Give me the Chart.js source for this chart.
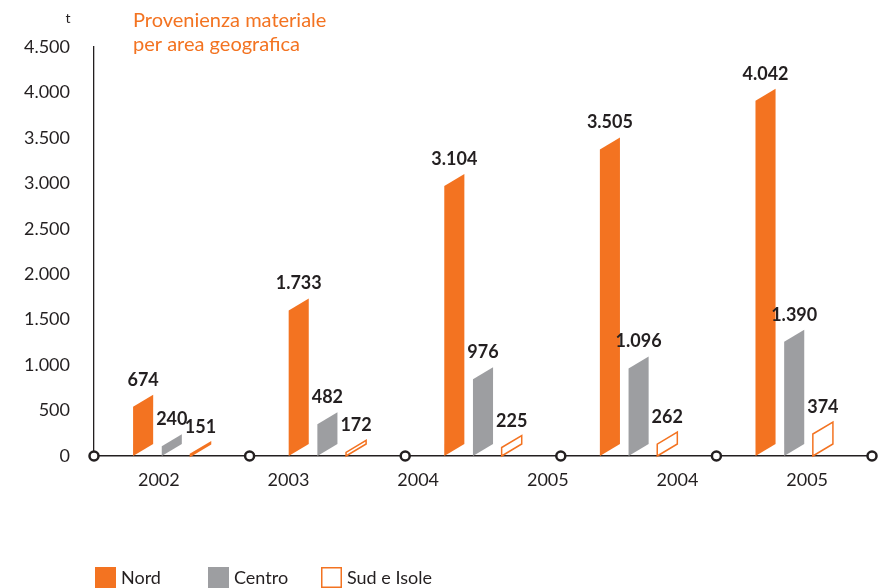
<!DOCTYPE html>
<html><head><meta charset="utf-8">
<script src="https://cdn.jsdelivr.net/npm/chart.js@4"></script>
<style>html,body{margin:0;padding:0;background:#fff}#wrap{width:888px;height:588px;position:relative}</style>
</head><body><div id="wrap"><canvas id="c" width="888" height="588"></canvas></div>
<script>
// ---- data ----
const groups = ['g1', 'g2', 'g3', 'g4', 'g5'];
const axisLabels = ['2002', '2003', '2004', '2005', '2004', '2005'];
const nord = [674, 1733, 3104, 3505, 4042];
const centro = [240, 482, 976, 1096, 1390];
const sud = [151, 172, 225, 262, 374];
const seriesNames = ['Nord', 'Centro', 'Sud e Isole'];
const titleLines = ['Provenienza materiale', 'per area geografica'];
const unitLabel = 't';
const yMax = 4500, yStep = 500;

const ORANGE = '#f37321', GRAY = '#9d9ea1', DARK = '#231f20';
const FONT = 'Lato';

function fmt(v) { return String(v).replace(/\B(?=(\d{3})+(?!\d))/g, '.'); }

const parallelBars = {
  id: 'parallelBars',
  beforeDatasetDraw() { return false; },
  afterDatasetsDraw(chart) {
    const ctx = chart.ctx, skew = 12;
    chart.data.datasets.forEach((ds, di) => {
      const meta = chart.getDatasetMeta(di);
      meta.data.forEach((el, i) => {
        const p = el.getProps(['x', 'y', 'base', 'width'], true);
        const l = p.x - p.width / 2, r = p.x + p.width / 2;
        ctx.save();
        ctx.beginPath();
        ctx.moveTo(l, p.base);
        ctx.lineTo(r, p.base - skew);
        ctx.lineTo(r, p.y);
        ctx.lineTo(l, p.y + skew);
        ctx.closePath();
        ctx.fillStyle = ds.backgroundColor;
        ctx.fill();
        if (ds.outline) {
          ctx.lineWidth = 1.5;
          ctx.strokeStyle = ds.borderColor;
          ctx.stroke();
        }
        ctx.fillStyle = DARK;
        ctx.font = 'bold 18px ' + FONT;
        ctx.textAlign = 'center';
        ctx.textBaseline = 'alphabetic';
        ctx.fillText(fmt(ds.data[i]), p.x, p.y - 9);
        ctx.restore();
      });
    });
  },
  afterDraw(chart) {
    const ctx = chart.ctx;
    const xs = chart.scales.x;
    const n = groups.length;
    ctx.save();
    // circles at group boundaries
    for (let i = 0; i <= n; i++) {
      const px = xs.getPixelForValue(i - 0.5);
      ctx.beginPath();
      ctx.arc(px, chart.chartArea.bottom, 4.5, 0, Math.PI * 2);
      ctx.fillStyle = '#fff';
      ctx.fill();
      ctx.lineWidth = 2.5;
      ctx.strokeStyle = DARK;
      ctx.stroke();
    }
    // title
    ctx.fillStyle = ORANGE;
    ctx.font = '20px ' + FONT;
    ctx.textAlign = 'left';
    ctx.textBaseline = 'alphabetic';
    titleLines.forEach((t, k) => ctx.fillText(t, 133, 27 + k * 23.5));
    // unit
    ctx.fillStyle = DARK;
    ctx.font = '14px ' + FONT;
    ctx.textAlign = 'center';
    ctx.fillText(unitLabel, 68, 23);
    // legend
    ctx.font = '18px ' + FONT;
    ctx.textAlign = 'left';
    ctx.textBaseline = 'middle';
    chart.data.datasets.forEach((ds, di) => {
      const bx = 95 + di * 113, by = 567;
      if (ds.outline) {
        ctx.fillStyle = '#fff';
        ctx.fillRect(bx, by, 21, 21);
        ctx.lineWidth = 1.5;
        ctx.strokeStyle = ds.borderColor;
        ctx.strokeRect(bx + 0.75, by + 0.75, 19.5, 19.5);
      } else {
        ctx.fillStyle = ds.backgroundColor;
        ctx.fillRect(bx, by, 21, 21);
      }
      ctx.fillStyle = DARK;
      ctx.fillText(ds.label, bx + 26, by + 11);
    });
    ctx.restore();
  }
};

new Chart(document.getElementById('c'), {
  type: 'bar',
  data: {
    labels: groups,
    datasets: [
      { label: seriesNames[0], data: nord, backgroundColor: ORANGE, borderColor: ORANGE },
      { label: seriesNames[1], data: centro, backgroundColor: GRAY, borderColor: GRAY },
      { label: seriesNames[2], data: sud, backgroundColor: '#ffffff', borderColor: ORANGE, outline: true }
    ]
  },
  options: {
    responsive: false,
    animation: false,
    devicePixelRatio: 1,
    categoryPercentage: 0.553,
    barPercentage: 0.70,
    layout: { padding: { top: 47, right: 16, bottom: 92, left: 0 } },
    plugins: { legend: { display: false }, tooltip: { enabled: false }, title: { display: false } },
    scales: {
      x: { type: 'category', display: false, offset: true },
      x2: {
        type: 'category', position: 'bottom', labels: axisLabels, offset: true,
        grid: { display: false, drawTicks: false },
        border: { display: true, color: DARK, width: 1.5 },
        ticks: { font: { family: FONT, size: 18 }, color: DARK, padding: 13, maxRotation: 0, autoSkip: false },
        afterFit(s) { s.height = 40; }
      },
      y: {
        min: 0, max: yMax,
        grid: { display: false, drawTicks: false },
        border: { display: true, color: DARK, width: 1.3 },
        ticks: { stepSize: yStep, callback: v => fmt(v), font: { family: FONT, size: 18 }, color: DARK, padding: 24 },
        afterFit(s) { s.width = 94; }
      }
    }
  },
  plugins: [parallelBars]
});
</script></body></html>
